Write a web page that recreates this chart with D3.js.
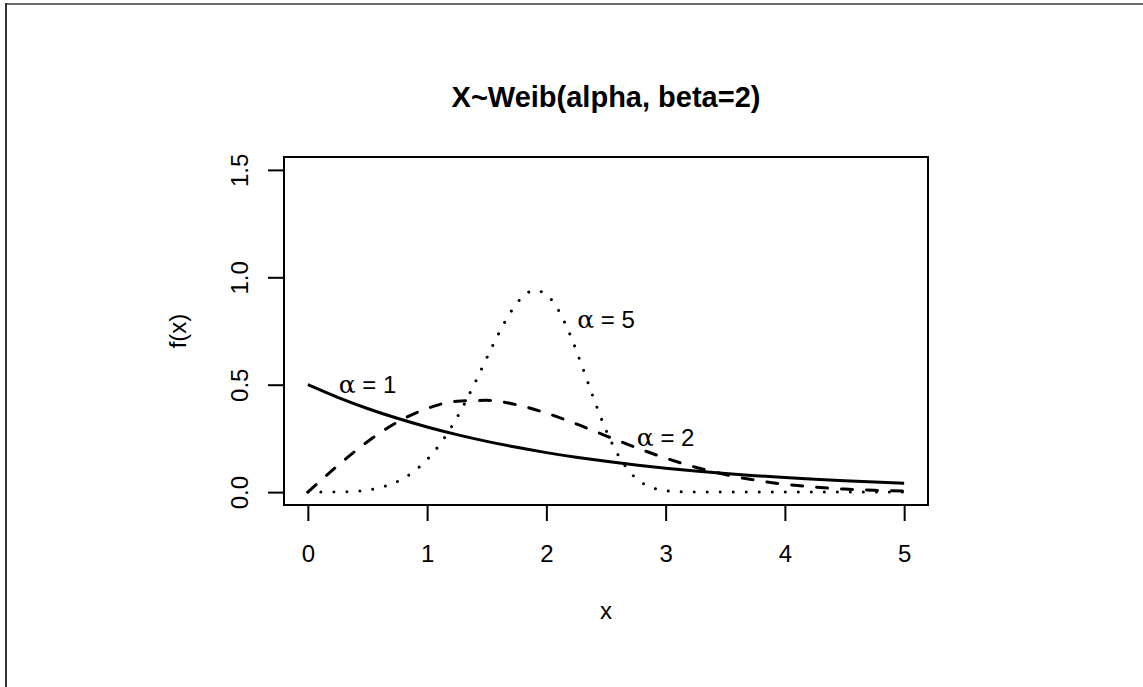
<!DOCTYPE html>
<html>
<head>
<meta charset="utf-8">
<script src="https://d3js.org/d3.v7.min.js"></script>
<style>
  body { margin: 0; background: #fff; }
  text { font-family: "Liberation Sans", Arial, sans-serif; fill: #000; }
</style>
</head>
<body>
<div id="my_dataviz"></div>
<script>
    // values: Weibull densities, scale beta = 2
    var xs1 = [0, 0.25, 0.5, 0.75, 1, 1.25, 1.5, 1.75, 2, 2.25, 2.5, 2.75, 3, 3.25, 3.5, 3.75, 4, 4.25, 4.5, 4.75, 5];
    var alpha1 = [0.5, 0.4412, 0.3894, 0.3436, 0.3033, 0.2676, 0.2362, 0.2084, 0.1839, 0.1623, 0.1433,
        0.1264, 0.1116, 0.0985, 0.0869, 0.0767, 0.0677, 0.0597, 0.0527, 0.0465, 0.0410];
    var alpha2 = [0, 0.1231, 0.2348, 0.3258, 0.3894, 0.4229, 0.4273, 0.4069, 0.3679, 0.3174, 0.2620,
        0.2076, 0.1581, 0.1159, 0.0819, 0.0557, 0.0366, 0.0232, 0.0142, 0.0084, 0.0048];

    var xs5 = [0, 0.1, 0.2, 0.3, 0.4, 0.5, 0.6, 0.7, 0.8, 0.9, 1, 1.1, 1.2, 1.3, 1.4, 1.5, 1.6, 1.7, 1.8, 1.9,
        2, 2.1, 2.2, 2.3, 2.4, 2.5, 2.6, 2.7, 2.8, 2.9, 3, 3.1, 3.2, 3.3, 3.5, 4, 4.5, 5];
    var alpha5 = [0, 0, 0.0003, 0.0013, 0.0040, 0.0098, 0.0202, 0.0373, 0.0633, 0.1006, 0.1514, 0.2175,
        0.2998, 0.3974, 0.5074, 0.6239, 0.7379, 0.8374, 0.9088, 0.9393, 0.9197, 0.8480, 0.7313, 0.5851,
        0.4305, 0.2885, 0.1743, 0.0937, 0.0443, 0.0182, 0.0064, 0.0019, 0.0005, 0.0001, 0, 0, 0, 0];

    var xTicks = [0, 1, 2, 3, 4, 5];
    var yTicks = [0, 0.5, 1, 1.5];

    // curve labels
    var labels = [
        {x: 0.5, y: 0.5, n: "1"},
        {x: 3, y: 0.25, n: "2"},
        {x: 2.5, y: 0.8, n: "5"}
    ];

    var W = 1143, H = 687;
    var svg = d3.select("#my_dataviz")
        .append("svg")
        .attr("width", W)
        .attr("height", H);

    // outer frame of the screenshot
    svg.append("line").attr("x1", 5).attr("x2", W).attr("y1", 4).attr("y2", 4)
        .attr("stroke", "#6a6a6a").attr("stroke-width", 2);
    svg.append("line").attr("x1", 6).attr("x2", 6).attr("y1", 3).attr("y2", H)
        .attr("stroke", "#333").attr("stroke-width", 2);

    // R style: data range extended by 4%
    var x = d3.scaleLinear().domain([-0.2, 5.2]).range([284, 928]);
    var y = d3.scaleLinear().domain([-0.06, 1.56]).range([505, 157]);

    var xAxis = svg.append("g")
        .attr("transform", "translate(0,505)")
        .call(d3.axisBottom(x).tickValues(xTicks).tickSize(16).tickPadding(24).tickFormat(d3.format("d")));
    var yAxis = svg.append("g")
        .attr("transform", "translate(284,0)")
        .call(d3.axisLeft(y).tickValues(yTicks).tickSize(16).tickFormat(d3.format(".1f")));

    [xAxis, yAxis].forEach(function(a) {
        a.select(".domain").remove();
        a.selectAll(".tick line").attr("stroke", "#000").attr("stroke-width", 2);
        a.selectAll("text").attr("font-size", 24).attr("font-family", "Liberation Sans, Arial, sans-serif").attr("fill", "#000");
    });
    yAxis.selectAll("text")
        .attr("transform", "rotate(-90)")
        .attr("x", 0)
        .attr("y", -36)
        .attr("dy", null)
        .attr("text-anchor", "middle");

    // box
    svg.append("rect")
        .attr("x", x(-0.2)).attr("y", y(1.56))
        .attr("width", x(5.2) - x(-0.2)).attr("height", y(-0.06) - y(1.56))
        .attr("fill", "none").attr("stroke", "#000").attr("stroke-width", 2);

    var line = d3.line()
        .x(function(d) { return x(d[0]); })
        .y(function(d) { return y(d[1]); })
        .curve(d3.curveMonotoneX);

    function pairs(xv, yv) {
        return xv.map(function(v, i) { return [v, yv[i]]; });
    }

    svg.append("path").datum(pairs(xs1, alpha1))
        .attr("d", line).attr("fill", "none").attr("stroke", "#000").attr("stroke-width", 3);
    svg.append("path").datum(pairs(xs1, alpha2))
        .attr("d", line).attr("fill", "none").attr("stroke", "#000").attr("stroke-width", 3)
        .attr("stroke-dasharray", "11,14").attr("stroke-linecap", "round");
    svg.append("path").datum(pairs(xs5, alpha5))
        .attr("d", line).attr("fill", "none").attr("stroke", "#000").attr("stroke-width", 3)
        .attr("stroke-dasharray", "0.01,13").attr("stroke-linecap", "round");

    // labels
    var lab = svg.selectAll(".lab").data(labels).enter().append("text")
        .attr("class", "lab")
        .attr("x", function(d) { return x(d.x); })
        .attr("y", function(d) { return y(d.y) + 8; })
        .attr("text-anchor", "middle")
        .attr("font-size", 24);
    lab.append("tspan").attr("font-family", "DejaVu Serif, serif").attr("font-size", 25).text("α");
    lab.append("tspan").text(function(d) { return " = " + d.n; });

    // titles
    svg.append("text")
        .attr("x", (x(-0.2) + x(5.2)) / 2).attr("y", 107)
        .attr("text-anchor", "middle").attr("font-size", 29).attr("font-weight", "bold")
        .text("X~Weib(alpha, beta=2)");
    svg.append("text")
        .attr("x", (x(-0.2) + x(5.2)) / 2).attr("y", 619)
        .attr("text-anchor", "middle").attr("font-size", 24)
        .text("x");
    svg.append("text")
        .attr("transform", "translate(186," + ((y(-0.06) + y(1.56)) / 2) + ") rotate(-90)")
        .attr("text-anchor", "middle").attr("font-size", 24)
        .text("f(x)");
</script>
</body>
</html>
